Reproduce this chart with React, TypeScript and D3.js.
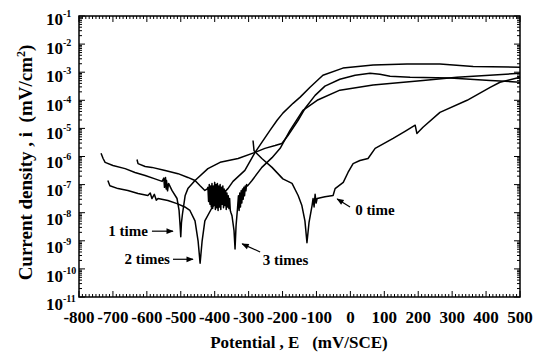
import * as d3 from "d3";

// potential (mV/SCE) and current density for each polarization curve
const e0 = [-287, -284, -261, -231, -199, -172, -154, -143, -134, -128, -122, -113, -110, -107, -104, -101, -98, -75, -51, -45, -21, -7, 8, 28, 52, 73, 126, 161, 191, 196, 214, 264, 344, 412, 441, 500];
const i0 = [3.7e-6, 1.6e-6, 8.5e-7, 4.1e-7, 1.6e-7, 1.1e-7, 4.1e-8, 1.8e-8, 5.1e-9, 8.5e-10, 4.4e-9, 1.8e-8, 3.2e-8, 1.6e-8, 4.5e-8, 2.2e-8, 3.2e-8, 3.7e-8, 4.1e-8, 7.2e-8, 1.2e-7, 2.7e-7, 5.6e-7, 7.2e-7, 8.5e-7, 1.95e-6, 4.4e-6, 7.8e-6, 1.3e-5, 6.6e-6, 1.1e-5, 3.7e-5, 1e-4, 2.9e-4, 4.4e-4, 6.6e-4];

const e1 = [-735, -729, -723, -700, -664, -635, -605, -576, -555, -550, -548, -545, -543, -542, -539, -536, -526, -511, -505, -502, -500, -498, -495, -487, -479, -458, -420, -384, -331, -281, -252, -222, -202, -184, -154, -134, -104, -75, -31, 14, 58, 87, 117, 176, 294, 412, 500];
const i1 = [1.3e-6, 8.5e-7, 6.2e-7, 4.8e-7, 3.7e-7, 2.7e-7, 2.1e-7, 1.6e-7, 1.3e-7, 1.7e-7, 8e-8, 1.8e-7, 7e-8, 1.4e-7, 6e-8, 1.1e-7, 6.2e-8, 3.2e-8, 1.2e-8, 3.5e-9, 1.4e-9, 4.4e-9, 9e-9, 4.1e-8, 7.2e-8, 1.4e-7, 3.7e-7, 6.2e-7, 8.5e-7, 1.4e-6, 1.95e-6, 2.45e-6, 2.9e-6, 5.6e-6, 1.95e-5, 5.1e-5, 1.5e-4, 3.2e-4, 5.6e-4, 7.8e-4, 9.1e-4, 8.5e-4, 7.2e-4, 6.6e-4, 6.2e-4, 5.1e-4, 4.4e-4];

const e2 = [-715, -709, -685, -656, -626, -597, -590, -585, -578, -572, -567, -538, -511, -488, -473, -458, -449, -443, -437, -429, -408, -390, -361, -346, -311, -281, -261, -237, -216, -199, -169, -148, -119, -81, -22, 67, 167, 264, 362, 500];
const i2 = [1.4e-7, 9.1e-8, 7.2e-8, 6.2e-8, 4.8e-8, 4.1e-8, 5e-8, 3.2e-8, 4.5e-8, 2.8e-8, 3.2e-8, 2.7e-8, 2.1e-8, 1.6e-8, 1.2e-8, 5.1e-9, 1e-9, 1.6e-10, 1e-9, 5.1e-9, 1.5e-8, 3.2e-8, 7.2e-8, 1.3e-7, 3.2e-7, 1.4e-6, 3.2e-6, 8.5e-6, 1.95e-5, 3.5e-5, 7.8e-5, 1.3e-4, 2.9e-4, 7.8e-4, 1.4e-3, 1.8e-3, 1.95e-3, 1.95e-3, 1.6e-3, 1.5e-3];

const e3 = [-629, -626, -605, -585, -546, -508, -479, -458, -443, -429, -422,
  -420, -418, -416, -414, -412, -410, -408, -406, -404, -402, -400, -398, -396, -394, -392, -390, -388, -386,
  -384, -382, -380, -378, -376, -374, -372, -370, -368, -366, -364, -362, -360, -358, -356, -354, -352,
  -349, -343, -340, -337, -333, -330, -328, -326, -324, -322, -320, -318, -316, -314, -312, -310, -308, -306, -303,
  -290, -261, -231, -207, -178, -140, -98, -31, 67, 214, 314, 500];
const i3 = [7.8e-7, 5.6e-7, 4.4e-7, 4.1e-7, 3.2e-7, 2.45e-7, 1.8e-7, 1.4e-7, 9.1e-8, 6.2e-8, 7e-8,
  8e-8, 2.5e-8, 1e-7, 2e-8, 9e-8, 1.6e-8, 1.1e-7, 1.4e-8, 9e-8, 1.8e-8, 1.2e-7, 1.3e-8, 1e-7, 1.5e-8, 1.1e-7, 1.2e-8, 9e-8, 1.6e-8,
  1e-7, 1.3e-8, 8e-8, 2e-8, 9e-8, 1.5e-8, 7e-8, 1.8e-8, 6e-8, 1.3e-8, 5e-8, 1.6e-8, 4e-8, 1.4e-8, 3.2e-8, 1.2e-8, 1e-8,
  7.8e-9, 2.3e-9, 5.1e-10, 3.5e-9, 1.3e-8, 4e-8, 1.2e-8, 5e-8, 1.6e-8, 6e-8, 2.2e-8, 7e-8, 3e-8, 8e-8, 4e-8, 9e-8, 6e-8, 1e-7, 9e-8,
  1.4e-7, 4.1e-7, 9.1e-7, 1.95e-6, 8.5e-6, 4.4e-5, 1e-4, 2.3e-4, 3.5e-4, 5.1e-4, 6.6e-4, 9.1e-4];

const xTicks = [-800, -700, -600, -500, -400, -300, -200, -100, 0, 100, 200, 300, 400, 500];
const yExponents = [-1, -2, -3, -4, -5, -6, -7, -8, -9, -10, -11];

// annotation: label, text anchor point, arrow from -> to
const notes = [
  { label: "1 time", anchor: "end", tx: -597, ty: 2.2e-9, ax: [-585, -523], ay: [2.2e-9, 2.2e-9] },
  { label: "2 times", anchor: "end", tx: -532, ty: 2.2e-10, ax: [-523, -464], ay: [2.2e-10, 2.2e-10] },
  { label: "3 times", anchor: "start", tx: -258, ty: 2.1e-10, ax: [-266, -319], ay: [4e-10, 7.8e-10] },
  { label: "0 time", anchor: "start", tx: 14, ty: 1.26e-8, ax: [-1, -39], ay: [1.6e-8, 3.1e-8] },
];

const W = 541;
const H = 353;
const L = 79, R = 520, T = 16, B = 297;
const FONT = "'Liberation Serif', 'Times New Roman', serif";

export default function App() {
  const x = d3.scaleLinear().domain([-800, 500]).range([L, R]);
  const y = d3.scaleLog().domain([1e-11, 1e-1]).range([B, T]);

  const line = d3
    .line<[number, number]>()
    .x((d) => x(d[0]))
    .y((d) => y(d[1]));

  const curves = [
    [e0, i0],
    [e1, i1],
    [e2, i2],
    [e3, i3],
  ].map(([es, is]) => es.map((e, k) => [e, is[k]] as [number, number]));

  // tick marks
  const xMinor = d3.range(-800, 501, 10).filter((v) => v % 100 !== 0);
  const yMinor: number[] = [];
  for (let p = -11; p < -1; p++) for (let m = 2; m <= 9; m++) yMinor.push(m * Math.pow(10, p));
  const yMajor = yExponents.map((p) => Math.pow(10, p));

  const tickLines: JSX.Element[] = [];
  xTicks.forEach((v, k) => {
    tickLines.push(<line key={"xb" + k} x1={x(v)} x2={x(v)} y1={B} y2={B - 6} />);
    tickLines.push(<line key={"xt" + k} x1={x(v)} x2={x(v)} y1={T} y2={T + 6} />);
  });
  xMinor.forEach((v, k) => {
    tickLines.push(<line key={"xmb" + k} x1={x(v)} x2={x(v)} y1={B} y2={B - 3} />);
    tickLines.push(<line key={"xmt" + k} x1={x(v)} x2={x(v)} y1={T} y2={T + 3} />);
  });
  yMajor.forEach((v, k) => {
    tickLines.push(<line key={"yl" + k} x1={L} x2={L + 6} y1={y(v)} y2={y(v)} />);
    tickLines.push(<line key={"yr" + k} x1={R} x2={R - 6} y1={y(v)} y2={y(v)} />);
  });
  yMinor.forEach((v, k) => {
    tickLines.push(<line key={"yml" + k} x1={L} x2={L + 3} y1={y(v)} y2={y(v)} />);
    tickLines.push(<line key={"ymr" + k} x1={R} x2={R - 3} y1={y(v)} y2={y(v)} />);
  });

  return (
    <svg
      width={W}
      height={H}
      style={{ position: "absolute", left: 0, top: 0, background: "#fff" }}
      fontFamily={FONT}
      fontWeight="bold"
    >
      <defs>
        <marker id="arr" viewBox="0 0 10 10" refX="9" refY="5" markerWidth="7" markerHeight="6" orient="auto">
          <path d="M0,1 L10,5 L0,9 Z" fill="#000" />
        </marker>
      </defs>
      <rect x={L} y={T} width={R - L} height={B - T} fill="none" stroke="#000" strokeWidth={1.5} />
      <g stroke="#000" strokeWidth={1}>{tickLines}</g>

      {curves.map((pts, k) => (
        <path key={k} d={line(pts) || ""} fill="none" stroke="#000" strokeWidth={1.5} strokeLinejoin="round" />
      ))}

      {/* x tick labels */}
      {xTicks.map((v) => (
        <text key={v} x={x(v)} y={323} textAnchor="middle" fontSize={17}>
          {v < 0 ? "-" + Math.abs(v) : v}
        </text>
      ))}

      {/* y tick labels */}
      {yExponents.map((p, k) => {
        const yy = y(Math.pow(10, p)) + 9 + k * 0.4;
        return (
          <g key={p}>
            <text x={63} y={yy} textAnchor="end" fontSize={17}>10</text>
            <text x={63} y={yy - 8} textAnchor="start" fontSize={10}>{p}</text>
          </g>
        );
      })}

      {/* annotations */}
      {notes.map((n) => (
        <g key={n.label}>
          <text x={x(n.tx)} y={y(n.ty) + 5} textAnchor={n.anchor} fontSize={15}>{n.label}</text>
          <line
            x1={x(n.ax[0])}
            y1={y(n.ay[0])}
            x2={x(n.ax[1])}
            y2={y(n.ay[1])}
            stroke="#000"
            strokeWidth={1.2}
            markerEnd="url(#arr)"
          />
        </g>
      ))}

      <text x={299} y={348} textAnchor="middle" fontSize={17} style={{ whiteSpace: "pre" }}>
        {"Potential , E   (mV/SCE)"}
      </text>
      <text
        transform={`translate(32,${(T + B) / 2 + 6}) rotate(-90)`}
        textAnchor="middle"
        fontSize={19}
        style={{ whiteSpace: "pre" }}
      >
        {"Current density , i  (mV/cm"}
        <tspan dy={-7} fontSize={12}>2</tspan>
        <tspan dy={7}>)</tspan>
      </text>
    </svg>
  );
}
